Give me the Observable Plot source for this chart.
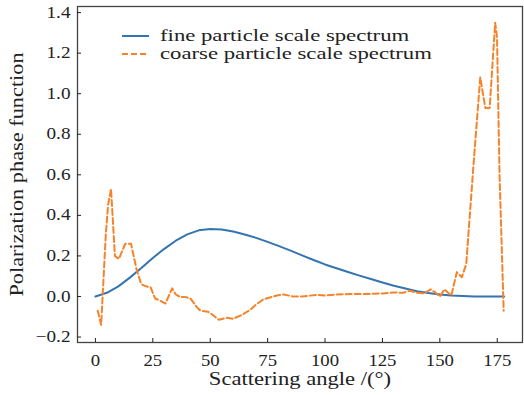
<!DOCTYPE html>
<html>
<head>
<meta charset="utf-8">
<script src="https://cdn.jsdelivr.net/npm/d3@7"></script>
<script src="https://cdn.jsdelivr.net/npm/@observablehq/plot@0.6"></script>
<style>
  html, body { margin: 0; padding: 0; background: #fff; }
  #wrap { position: relative; width: 524px; height: 395px; }
  #legend { position: absolute; left: 118px; top: 23px; }
  svg text { font-family: 'Liberation Serif', 'Times New Roman', serif; font-variant-numeric: normal; }
</style>
</head>
<body>
<div id="wrap"><div id="legend"></div></div>
<script>
const seriesNames = ["fine particle scale spectrum", "coarse particle scale spectrum"];
const seriesColors = ["#3474b0", "#f5832a"];

const fineAngle = [0, 5, 10, 15, 20, 25, 30, 35, 40, 45, 50, 55, 60, 65, 70, 75, 80, 85, 90, 95, 100, 105, 110, 115, 120, 125, 130, 135, 140, 145, 150, 155, 160, 165, 170, 175, 178];
const fineValue = [0, 0.018, 0.05, 0.093, 0.14, 0.19, 0.235, 0.275, 0.306, 0.326, 0.333, 0.33, 0.32, 0.306, 0.289, 0.269, 0.248, 0.226, 0.203, 0.18, 0.158, 0.139, 0.121, 0.103, 0.086, 0.069, 0.053, 0.039, 0.026, 0.017, 0.01, 0.005, 0.002, 0, 0, 0, 0];

const coarseAngle = [1, 2.5, 4.5, 5.5, 6.8, 8.5, 10.2, 11.5, 13, 15.5, 18, 20, 22, 24, 26, 28, 30.5, 33.4, 35, 37, 39, 41.4, 44, 45.7, 49, 51, 53.7, 57, 60, 64, 67.5, 70, 73, 76, 79, 82, 86, 90, 96.5, 100, 105, 111, 118, 125, 130, 134, 137, 140, 143, 146, 148, 150, 152, 155, 157.4, 159.6, 161.5, 164.6, 167.6, 169.8, 171.7, 174.1, 174.9, 176, 177.8];
const coarseValue = [-0.07, -0.14, 0.3, 0.45, 0.53, 0.2, 0.185, 0.22, 0.26, 0.26, 0.13, 0.06, 0.05, 0.046, -0.01, -0.02, -0.035, 0.04, 0.01, -0.003, -0.002, -0.01, -0.05, -0.07, -0.075, -0.09, -0.115, -0.105, -0.11, -0.09, -0.065, -0.04, -0.015, -0.005, 0.005, 0.01, 0, 0, 0.008, 0.005, 0.01, 0.012, 0.012, 0.015, 0.02, 0.018, 0.028, 0.018, 0.015, 0.035, 0.02, 0, 0.035, 0.005, 0.12, 0.095, 0.16, 0.64, 1.08, 0.93, 0.93, 1.35, 1.28, 0.6, -0.07];

const xTicks = [0, 25, 50, 75, 100, 125, 150, 175];
const yTicks = [-0.2, 0, 0.2, 0.4, 0.6, 0.8, 1.0, 1.2, 1.4];

const fine = fineAngle.map((a, i) => ({a, v: fineValue[i]}));
const coarse = coarseAngle.map((a, i) => ({a, v: coarseValue[i]}));

const FONT = "'Liberation Serif', 'Times New Roman', serif";

const chart = Plot.plot({
  width: 524,
  height: 395,
  marginLeft: 77,
  marginRight: 2,
  marginTop: 6,
  marginBottom: 53,
  style: {fontFamily: FONT, fontSize: "16px", color: "#222", background: "#fff"},
  x: {domain: [-7.8, 186]},
  y: {domain: [-0.227, 1.43]},
  marks: [
    Plot.frame({stroke: "#444", strokeWidth: 1.3}),
    Plot.axisX(xTicks, {anchor: "bottom", tickSize: -4, tickPadding: 16, fontSize: 16, fontFamily: FONT, label: null}),
    Plot.axisX({anchor: "bottom", ticks: [], label: "Scattering angle /(°)", labelAnchor: "center", labelArrow: "none", labelOffset: 42, fontSize: 19, fontFamily: FONT}),
    Plot.axisY(yTicks, {anchor: "left", tickSize: -4, tickPadding: 11, fontSize: 16, fontFamily: FONT, tickFormat: d => d.toFixed(1).replace("-", "\u2212"), label: null}),
    Plot.axisY({anchor: "left", ticks: [], label: "Polarization phase function", labelAnchor: "center", labelArrow: "none", labelOffset: 67, fontSize: 18, fontFamily: FONT}),
    Plot.line(fine, {x: "a", y: "v", stroke: seriesColors[0], strokeWidth: 2}),
    Plot.line(coarse, {x: "a", y: "v", stroke: seriesColors[1], strokeWidth: 2, strokeDasharray: "6,3"})
  ]
});
document.getElementById("wrap").prepend(chart);

// widen the Times-like glyphs to approximate the wider serif face of the reference
function stretch(sel, factor) {
  chart.querySelectorAll(sel).forEach(t => {
    const len = t.getComputedTextLength();
    t.setAttribute("textLength", (len * factor).toFixed(1));
    t.setAttribute("lengthAdjust", "spacingAndGlyphs");
  });
}
stretch('g[aria-label="x-axis tick label"] text', 1.17);
stretch('g[aria-label="y-axis tick label"] text', 1.2);
stretch('g[aria-label="x-axis label"] text', 1.19);
stretch('g[aria-label="y-axis label"] text', 1.24);

const NS = "http://www.w3.org/2000/svg";
const lsvg = document.createElementNS(NS, "svg");
lsvg.setAttribute("width", "330");
lsvg.setAttribute("height", "42");
lsvg.style.fontSize = "16px";
document.getElementById("legend").appendChild(lsvg);
seriesNames.forEach((name, i) => {
  const cy = 13 + i * 18;
  const ln = document.createElementNS(NS, "line");
  ln.setAttribute("x1", "4"); ln.setAttribute("x2", "31");
  ln.setAttribute("y1", cy); ln.setAttribute("y2", cy);
  ln.setAttribute("stroke", seriesColors[i]);
  ln.setAttribute("stroke-width", "2");
  if (i === 1) ln.setAttribute("stroke-dasharray", "6,3");
  lsvg.appendChild(ln);
  const tx = document.createElementNS(NS, "text");
  tx.setAttribute("x", "42");
  tx.setAttribute("y", cy + 5);
  tx.setAttribute("fill", "#222");
  tx.textContent = name;
  lsvg.appendChild(tx);
  const len = tx.getComputedTextLength();
  tx.setAttribute("textLength", (len * 1.42).toFixed(1));
  tx.setAttribute("lengthAdjust", "spacingAndGlyphs");
});
</script>
</body>
</html>
